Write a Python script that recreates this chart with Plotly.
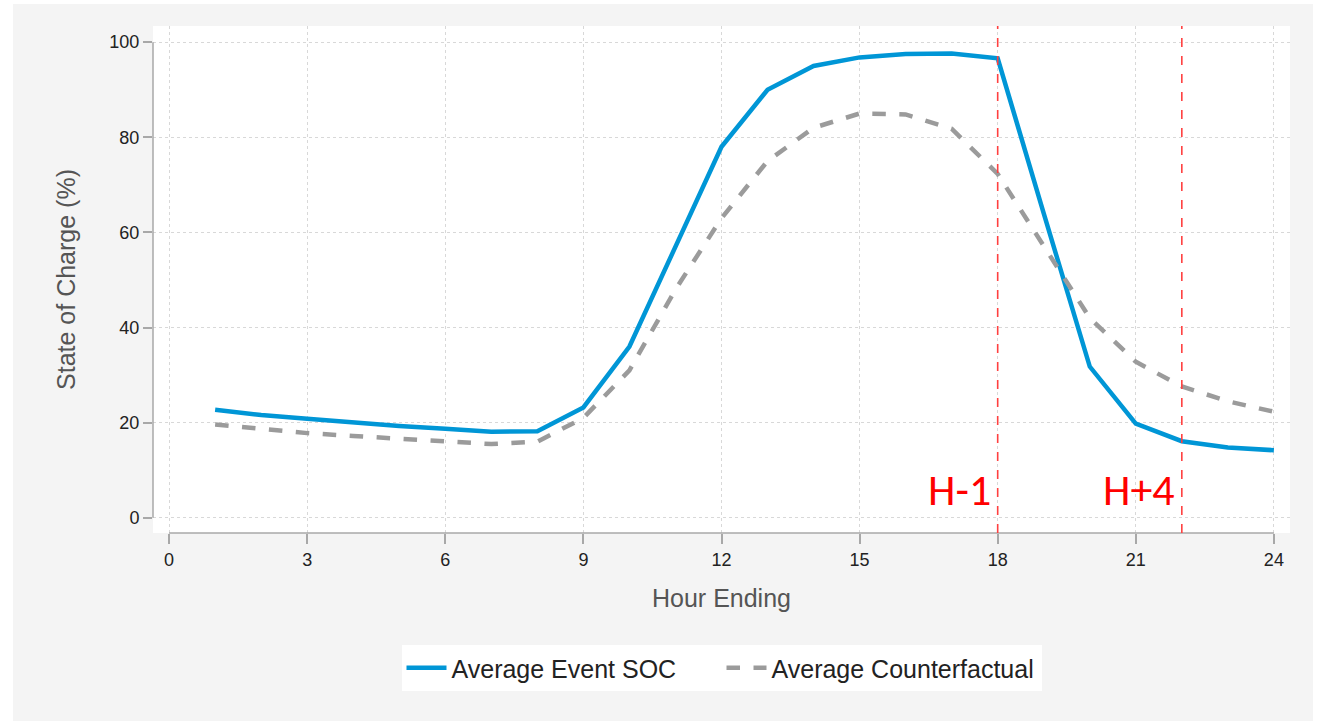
import plotly.graph_objects as go

hours = list(range(1, 25))
event_soc = [22.7, 21.6, 20.8, 20.0, 19.3, 18.7, 18.1, 18.2, 23.2, 36.0, 57.0, 78.0,
             90.0, 95.0, 96.8, 97.5, 97.6, 96.6, 64.0, 31.8, 19.8, 16.1, 14.8, 14.2]
counterfactual = [19.6, 18.6, 17.8, 17.2, 16.7, 16.2, 15.5, 16.0, 21.0, 31.0, 48.0, 63.0,
                  75.0, 82.0, 85.0, 84.8, 81.8, 72.3, 57.0, 42.0, 32.8, 27.6, 24.5, 22.3]
x_ticks = [0, 3, 6, 9, 12, 15, 18, 21, 24]
y_ticks = [0, 20, 40, 60, 80, 100]
event_lines = [18, 22]
event_labels = ["H-1", "H+4"]

FONT = "Liberation Sans, Arial, sans-serif"
TICKFONT = "Liberation Sans Narrow, Arial Narrow, Liberation Sans, sans-serif"

fig = go.Figure()
fig.add_trace(go.Scatter(x=hours, y=event_soc, mode="lines", name="Average Event SOC",
                         line=dict(color="#0096d6", width=4.5)))
fig.add_trace(go.Scatter(x=hours, y=counterfactual, mode="lines", name="Average Counterfactual",
                         line=dict(color="#9b9b9b", width=4.5, dash="dash")))

shapes = []
# white outer strips (top/left/right)
shapes.append(dict(type="rect", xref="paper", yref="paper", x0=-0.2, x1=-0.1231, y0=-0.5, y1=1.2,
                   fillcolor="white", line=dict(width=0), layer="below"))
shapes.append(dict(type="rect", xref="paper", yref="paper", x0=-0.2, x1=1.1, y0=1.0434, y1=1.2,
                   fillcolor="white", line=dict(width=0), layer="below"))
shapes.append(dict(type="rect", xref="paper", yref="paper", x0=1.0202, x1=1.1, y0=-0.5, y1=1.2,
                   fillcolor="white", line=dict(width=0), layer="below"))
# axis lines only across data span
shapes.append(dict(type="line", xref="paper", yref="y", x0=0, x1=0, y0=0, y1=100,
                   line=dict(color="#a8a8a8", width=1.5)))
shapes.append(dict(type="line", xref="x", yref="paper", x0=0, x1=24, y0=0, y1=0,
                   line=dict(color="#a8a8a8", width=1.5)))
for xv in event_lines:
    shapes.append(dict(type="line", xref="x", yref="paper", x0=xv, x1=xv, y0=0, y1=1,
                       line=dict(color="#ff4040", width=1.6, dash="dash")))
fig.update_layout(shapes=shapes)

annotations = []
for xv, lab in zip(event_lines, event_labels):
    annotations.append(dict(x=xv, y=5.9, xref="x", yref="y", text=lab, showarrow=False,
                            xanchor="right", yanchor="middle", xshift=-5,
                            font=dict(family="Carlito, Liberation Sans, sans-serif",
                                      size=44, color="#ff0000")))
fig.update_layout(annotations=annotations)

fig.update_xaxes(range=[-0.35, 24.35], tickvals=x_ticks, ticks="outside", ticklen=10,
                 tickcolor="#a8a8a8", tickwidth=1.5, showline=False, zeroline=False,
                 showgrid=True, gridcolor="#d8d8d8", griddash="dot", gridwidth=1,
                 tickfont=dict(family=TICKFONT, size=18, color="#222"),
                 title=dict(text="Hour Ending", font=dict(family=FONT, size=25, color="#555"),
                            standoff=20))
fig.update_yaxes(range=[-3.2, 103.4], tickvals=y_ticks, ticks="outside", ticklen=9,
                 tickcolor="#a8a8a8", tickwidth=1.5, showline=False, zeroline=False,
                 showgrid=True, gridcolor="#d8d8d8", griddash="dot", gridwidth=1,
                 tickfont=dict(family=TICKFONT, size=18, color="#222"),
                 title=dict(text="State of Charge (%)", font=dict(family=FONT, size=25, color="#555"),
                            standoff=26))

fig.update_layout(
    width=1319, height=721,
    margin=dict(l=153, r=29, t=26, b=188),
    paper_bgcolor="#f4f4f4", plot_bgcolor="white",
    font=dict(family=FONT),
    legend=dict(orientation="h", x=0.5, xanchor="center", y=-0.221, yanchor="top",
                bgcolor="white", font=dict(family=FONT, size=25, color="#222"),
                itemwidth=40, entrywidth=265, entrywidthmode="pixels"),
    showlegend=True,
)

fig.write_html("out.html", config={"displayModeBar": False},
               post_script="document.body.style.margin='0px';")
